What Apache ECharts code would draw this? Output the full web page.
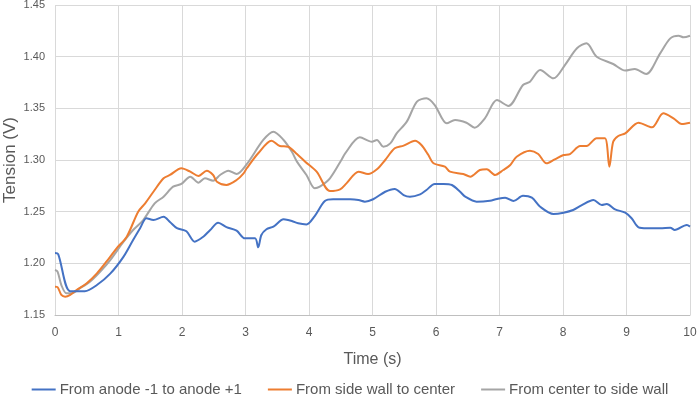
<!DOCTYPE html>
<html>
<head>
<meta charset="utf-8">
<script src="https://cdn.jsdelivr.net/npm/echarts@6/dist/echarts.min.js"></script>
<style>
  html, body { margin: 0; padding: 0; background: #fff; }
  #chart { width: 700px; height: 409px; }
</style>
</head>
<body>
<div id="chart"></div>
<script>
  // series names
  const seriesNames = ['From anode -1 to anode +1', 'From side wall to center', 'From center to side wall'];

  // [time (s), tension (V)]
  const anodeData = [
    [0, 1.210], [0.05, 1.209], [0.24, 1.173], [0.47, 1.173], [0.66, 1.179], [0.87, 1.190],
    [1.08, 1.2065], [1.23, 1.2226], [1.34, 1.234], [1.44, 1.2436], [1.55, 1.242], [1.71, 1.245],
    [1.81, 1.240], [1.92, 1.234], [2.07, 1.231], [2.2, 1.221], [2.34, 1.226], [2.44, 1.232],
    [2.57, 1.2393], [2.7, 1.235], [2.86, 1.2316], [2.99, 1.2242], [3.15, 1.2242], [3.2, 1.2155],
    [3.25, 1.2274], [3.33, 1.233], [3.44, 1.2355], [3.6, 1.2426], [3.73, 1.241], [3.83, 1.2387],
    [3.96, 1.2377], [4.09, 1.2458], [4.25, 1.2603], [4.38, 1.262], [4.65, 1.262], [4.78, 1.2613],
    [4.88, 1.2597], [5.01, 1.262], [5.2, 1.2693], [5.35, 1.272], [5.49, 1.2661], [5.59, 1.2645],
    [5.75, 1.2668], [5.85, 1.271], [5.98, 1.2768], [6.12, 1.2768], [6.25, 1.2758], [6.38, 1.2693],
    [6.46, 1.2645], [6.64, 1.2597], [6.85, 1.2606], [6.96, 1.2623], [7.09, 1.2635], [7.22, 1.2603],
    [7.37, 1.2654], [7.51, 1.2635], [7.64, 1.2548], [7.85, 1.2477], [8.01, 1.249], [8.16, 1.2516],
    [8.29, 1.2561], [8.48, 1.2613], [8.61, 1.2565], [8.69, 1.2574], [8.82, 1.2523], [8.98, 1.249],
    [9.08, 1.2436], [9.19, 1.2348], [9.32, 1.2339], [9.53, 1.2339], [9.69, 1.2345], [9.76, 1.2323],
    [9.95, 1.2371], [10, 1.2355]
  ];
  const sideToCenterData = [
    [0, 1.1774], [0.04, 1.177], [0.1, 1.1694], [0.16, 1.1677], [0.24, 1.1694], [0.34, 1.1742],
    [0.5, 1.1807], [0.66, 1.1903], [0.81, 1.2016], [0.97, 1.2145], [1.13, 1.2258], [1.31, 1.250],
    [1.42, 1.2581], [1.55, 1.2693], [1.71, 1.2823], [1.81, 1.2855], [1.99, 1.292], [2.13, 1.2887],
    [2.26, 1.2845], [2.39, 1.2897], [2.49, 1.2855], [2.55, 1.279], [2.7, 1.2758], [2.86, 1.2806],
    [2.97, 1.2871], [3.02, 1.292], [3.2, 1.3065], [3.41, 1.3187], [3.54, 1.3135], [3.67, 1.3129],
    [3.81, 1.3058], [3.94, 1.2984], [4.12, 1.2887], [4.33, 1.270], [4.49, 1.2716], [4.59, 1.2774],
    [4.78, 1.2887], [4.93, 1.2864], [5.07, 1.291], [5.2, 1.300], [5.35, 1.3113], [5.49, 1.3139],
    [5.67, 1.3187], [5.77, 1.3145], [5.88, 1.3048], [5.96, 1.2968], [6.14, 1.2935], [6.22, 1.2887],
    [6.43, 1.2864], [6.54, 1.2839], [6.69, 1.2903], [6.8, 1.291], [6.93, 1.2855], [7.06, 1.2903],
    [7.17, 1.2952], [7.27, 1.3032], [7.48, 1.309], [7.61, 1.3058], [7.74, 1.2968], [7.87, 1.3006],
    [8.01, 1.3048], [8.11, 1.3058], [8.27, 1.3135], [8.37, 1.3135], [8.53, 1.321], [8.66, 1.321],
    [8.73, 1.2935], [8.79, 1.3177], [8.87, 1.3232], [8.98, 1.3258], [9.19, 1.3361], [9.4, 1.3316],
    [9.58, 1.3452], [9.74, 1.3403], [9.87, 1.3348], [10, 1.3361]
  ];
  const centerToSideData = [
    [0, 1.1935], [0.04, 1.192], [0.1, 1.179], [0.18, 1.171], [0.26, 1.171], [0.39, 1.1758],
    [0.55, 1.1823], [0.71, 1.1919], [0.87, 1.2032], [1.08, 1.221], [1.23, 1.2323], [1.39, 1.2419],
    [1.57, 1.2581], [1.71, 1.2645], [1.86, 1.2742], [1.99, 1.2768], [2.13, 1.2839], [2.26, 1.2781],
    [2.36, 1.2823], [2.49, 1.280], [2.6, 1.2855], [2.73, 1.2897], [2.86, 1.2864], [3.02, 1.296],
    [3.28, 1.3194], [3.44, 1.3274], [3.6, 1.3194], [3.73, 1.308], [3.81, 1.2984], [3.96, 1.2855],
    [4.09, 1.2726], [4.17, 1.2742], [4.33, 1.2823], [4.51, 1.300], [4.57, 1.3065], [4.8, 1.322],
    [4.99, 1.3177], [5.07, 1.3194], [5.17, 1.3129], [5.28, 1.3161], [5.38, 1.3258], [5.54, 1.3371],
    [5.7, 1.3565], [5.85, 1.3597], [5.98, 1.3532], [6.17, 1.3355], [6.3, 1.3387], [6.48, 1.3361],
    [6.61, 1.3313], [6.77, 1.3403], [6.96, 1.358], [7.14, 1.3523], [7.37, 1.3726], [7.48, 1.3758],
    [7.64, 1.3871], [7.85, 1.379], [8.03, 1.3919], [8.22, 1.4081], [8.37, 1.4129], [8.53, 1.400],
    [8.79, 1.3929], [8.98, 1.3865], [9.13, 1.3881], [9.31, 1.3832], [9.53, 1.4032], [9.69, 1.4177],
    [9.82, 1.4203], [9.9, 1.4187], [10, 1.4203]
  ];

  const lineColors = ['#4472C4', '#ED7D31', '#A5A5A5'];
  const allData = [anodeData, sideToCenterData, centerToSideData];

  const myChart = echarts.init(document.getElementById('chart'), null, { renderer: 'canvas' });

  const option = {
    backgroundColor: '#fff',
    animation: false,
    grid: { left: 55, right: 10, top: 5, bottom: 94, containLabel: false, outerBoundsMode: 'none' },
    legend: {
      top: 377,
      left: 'center',
      itemWidth: 24,
      itemHeight: 2,
      itemGap: 26,
      icon: 'rect',
      textStyle: { fontFamily: 'Liberation Sans', fontSize: 15, color: '#595959', padding: [0, 0, 0, -1] },
      data: seriesNames
    },
    xAxis: {
      type: 'value',
      min: 0,
      max: 10,
      interval: 1,
      name: 'Time (s)',
      nameLocation: 'middle',
      nameGap: 37,
      nameMoveOverlap: false,
      nameTextStyle: { fontFamily: 'Liberation Sans', fontSize: 16, color: '#595959' },
      axisLine: { show: true, lineStyle: { color: '#bfbfbf', width: 1 } },
      axisTick: { show: false },
      axisLabel: { fontFamily: 'Liberation Sans', fontSize: 12, color: '#595959', margin: 12 },
      splitLine: { show: true, lineStyle: { color: '#d9d9d9', width: 1 } }
    },
    yAxis: {
      type: 'value',
      min: 1.15,
      max: 1.45,
      interval: 0.05,
      name: 'Tension (V)',
      nameLocation: 'middle',
      nameGap: 36,
      nameMoveOverlap: false,
      nameTextStyle: { fontFamily: 'Liberation Sans', fontSize: 17, color: '#595959' },
      axisLine: { show: false },
      axisTick: { show: false },
      axisLabel: {
        fontFamily: 'Liberation Sans', fontSize: 11, color: '#595959', margin: 10,
        formatter: function (v) { return v.toFixed(2); }
      },
      splitLine: { show: true, lineStyle: { color: '#d9d9d9', width: 1 } }
    },
    series: seriesNames.map(function (name, i) {
      return {
        name: name,
        type: 'line',
        data: allData[i],
        showSymbol: false,
        smooth: 0.3,
        lineStyle: { color: lineColors[i], width: 2 },
        itemStyle: { color: lineColors[i] },
        z: 3 - i
      };
    })
  };

  myChart.setOption(option);
</script>
</body>
</html>
